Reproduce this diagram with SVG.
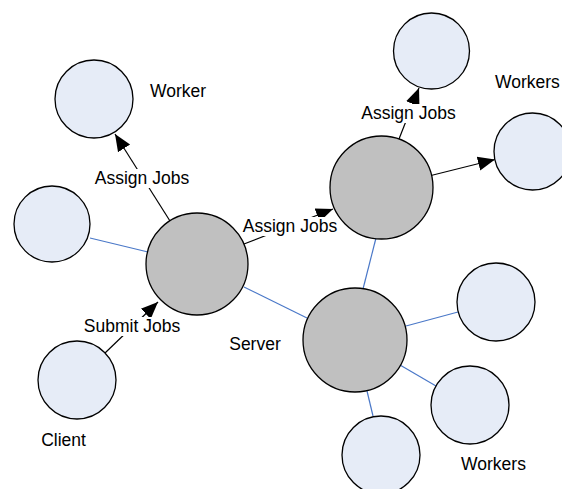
<svg xmlns="http://www.w3.org/2000/svg" width="562" height="489" viewBox="0 0 562 489">
  <style>
    .worker { fill: #e6ecf7; stroke: #000; stroke-width: 1.3; }
    .server { fill: #c0c0c0; stroke: #000; stroke-width: 1.3; }
    .link { stroke: #4a78c8; stroke-width: 1.2; fill: none; }
    .flow { stroke: #000; stroke-width: 1.2; fill: none; marker-end: url(#arrow); }
    .lbl { font-family: "Liberation Sans", Arial, sans-serif; font-size: 17.5px; fill: #000; }
    .mid { text-anchor: middle; }
    .bg { fill: #fff; }
  </style>
  <defs>
    <marker id="arrow" viewBox="0 0 10 10" refX="10" refY="5" markerWidth="17" markerHeight="17" markerUnits="userSpaceOnUse" orient="auto">
      <path d="M0,0.8 L10,5 L0,9.2 Z" fill="#000"/>
    </marker>
  </defs>
  <rect width="562" height="489" fill="#fff"/>

  <!-- connectors -->
  <g id="connectors">
    <line class="link" x1="90" y1="238" x2="148" y2="252"/>
    <line class="link" x1="244" y1="287" x2="307" y2="318"/>
    <line class="link" x1="376" y1="238" x2="363" y2="289"/>
    <line class="link" x1="406" y1="326" x2="458" y2="312"/>
    <line class="link" x1="400" y1="365" x2="436" y2="386"/>
    <line class="link" x1="367" y1="391" x2="373" y2="416"/>

    <line class="flow" x1="170" y1="221" x2="115" y2="134"/>
    <line class="flow" x1="244" y1="244" x2="333" y2="209"/>
    <line class="flow" x1="399" y1="139" x2="419" y2="88"/>
    <line class="flow" x1="431" y1="175.5" x2="495" y2="159.5"/>
    <line class="flow" x1="105" y1="353" x2="158" y2="302"/>

    <g id="flow-labels">
      <rect class="bg" x="94" y="169" width="96" height="19"/>
      <text class="lbl mid" x="142" y="184">Assign Jobs</text>
      <rect class="bg" x="242" y="217" width="96" height="19"/>
      <text class="lbl mid" x="290" y="232">Assign Jobs</text>
      <rect class="bg" x="360" y="104" width="97" height="19"/>
      <text class="lbl mid" x="408.5" y="119">Assign Jobs</text>
      <rect class="bg" x="83" y="317" width="98" height="19"/>
      <text class="lbl mid" x="132" y="332">Submit Jobs</text>
    </g>
  </g>

  <!-- nodes -->
  <g id="worker-top-left"><circle class="worker" cx="94" cy="99" r="39"/></g>
  <g id="worker-left"><circle class="worker" cx="52" cy="224" r="38"/></g>
  <g id="client"><circle class="worker" cx="77" cy="380" r="39"/></g>
  <g id="server-left"><circle class="server" cx="197" cy="264" r="51"/></g>
  <g id="server-center"><circle class="server" cx="355" cy="340" r="52"/></g>
  <g id="server-top"><circle class="server" cx="381.5" cy="187.5" r="51.5"/></g>
  <g id="worker-top"><circle class="worker" cx="431.5" cy="51" r="38"/></g>
  <g id="worker-top-right"><circle class="worker" cx="532.5" cy="151.5" r="38.5"/></g>
  <g id="worker-right"><circle class="worker" cx="496" cy="302" r="39"/></g>
  <g id="worker-bottom-right"><circle class="worker" cx="470" cy="405" r="39"/></g>
  <g id="worker-bottom"><circle class="worker" cx="381" cy="455" r="39"/></g>

  <!-- captions -->
  <g id="captions">
    <text class="lbl mid" x="178" y="96.5">Worker</text>
    <text class="lbl" x="495" y="88">Workers</text>
    <text class="lbl mid" x="255" y="349.5">Server</text>
    <text class="lbl mid" x="63.5" y="446">Client</text>
    <text class="lbl mid" x="493.5" y="470">Workers</text>
  </g>
</svg>
